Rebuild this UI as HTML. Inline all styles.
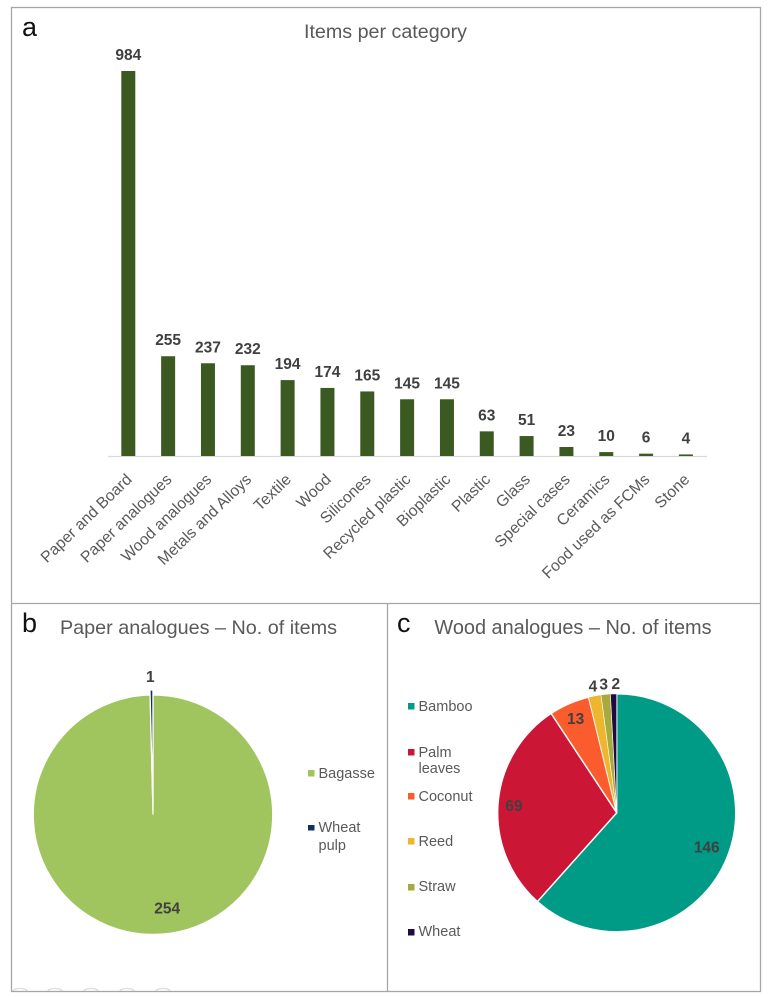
<!DOCTYPE html>
<html lang="en">
<head>
<meta charset="utf-8">
<title>Items per category</title>
<style>
html,body{margin:0;padding:0;background:#fff;}
svg{display:block;font-family:"Liberation Sans",sans-serif;}
</style>
</head>
<body>
<svg id="figure" xmlns="http://www.w3.org/2000/svg" width="769" height="998" viewBox="0 0 769 998">
  <rect x="0" y="0" width="769" height="998" fill="#fff"/>
  <g fill="none" stroke="#dddddd" stroke-width="1.3">
    <path d="M13 991A7 2.5 0 0 1 27 991"/>
    <path d="M48 991A7 2.5 0 0 1 62 991"/>
    <path d="M84 991A7 2.5 0 0 1 98 991"/>
    <path d="M120 991A7 2.5 0 0 1 134 991"/>
    <path d="M156 991A7 2.5 0 0 1 170 991"/>
  </g>
  <g fill="none" stroke="#a6a6a6" stroke-width="1.3">
    <rect x="11.5" y="7.5" width="749" height="984"/>
    <line x1="11.5" y1="603.5" x2="760.5" y2="603.5"/>
    <line x1="387.5" y1="603.5" x2="387.5" y2="991.5"/>
  </g>
  <text x="22" y="36" font-size="27" fill="#111">a</text>
  <text x="22" y="632" font-size="27" fill="#111">b</text>
  <text x="397" y="632" font-size="27" fill="#111">c</text>
  <text x="385.5" y="38" font-size="19.7" fill="#595959" text-anchor="middle">Items per category</text>
  <text x="198.5" y="634" font-size="19.8" fill="#595959" text-anchor="middle">Paper analogues – No. of items</text>
  <text x="573" y="634" font-size="19.9" fill="#595959" text-anchor="middle">Wood analogues – No. of items</text>
  <g id="bar-chart"></g>
  <g id="paper-pie"></g>
  <g id="wood-pie"></g>
  <g id="paper-legend">
    <rect x="308" y="770" width="6.5" height="6.5" fill="#a0c55e"/>
    <text x="318.5" y="778" font-size="14.5" fill="#595959">Bagasse</text>
    <rect x="308" y="825" width="6.5" height="5.5" fill="#12305e"/>
    <text x="318.5" y="832" font-size="14.5" fill="#595959">Wheat</text>
    <text x="318.5" y="850" font-size="14.5" fill="#595959">pulp</text>
  </g>
  <g id="wood-legend">
    <rect x="408" y="703" width="6.5" height="6.5" fill="#009b86"/>
    <text x="418.5" y="711" font-size="14.5" fill="#595959">Bamboo</text>
    <rect x="408" y="749" width="6.5" height="6.5" fill="#cc1636"/>
    <text x="418.5" y="757" font-size="14.5" fill="#595959">Palm</text>
    <text x="418.5" y="773" font-size="14.5" fill="#595959">leaves</text>
    <rect x="408" y="793" width="6.5" height="6.5" fill="#fa5c2e"/>
    <text x="418.5" y="801" font-size="14.5" fill="#595959">Coconut</text>
    <rect x="408" y="838" width="6.5" height="6.5" fill="#eeb52e"/>
    <text x="418.5" y="846" font-size="14.5" fill="#595959">Reed</text>
    <rect x="408" y="884" width="6.5" height="6.5" fill="#a5ab3c"/>
    <text x="418.5" y="891" font-size="14.5" fill="#595959">Straw</text>
    <rect x="408" y="929" width="6.5" height="6.5" fill="#22093f"/>
    <text x="418.5" y="936" font-size="14.5" fill="#595959">Wheat</text>
  </g>
</svg>
<script>
var barCategories = ["Paper and Board","Paper analogues","Wood analogues","Metals and Alloys","Textile","Wood","Silicones","Recycled plastic","Bioplastic","Plastic","Glass","Special cases","Ceramics","Food used as FCMs","Stone"];
var barValues = [984,255,237,232,194,174,165,145,145,63,51,23,10,6,4];
var paperCategories = ["Bagasse","Wheat pulp"];
var paperValues = [254,1];
var woodCategories = ["Bamboo","Palm leaves","Coconut","Reed","Straw","Wheat"];
var woodValues = [146,69,13,4,3,2];

var NS = "http://www.w3.org/2000/svg";
function svgEl(tag, attrs, parent) {
  var el = document.createElementNS(NS, tag);
  for (var k in attrs) { el.setAttribute(k, attrs[k]); }
  parent.appendChild(el);
  return el;
}
function slug(s) { return s.toLowerCase().replace(/[^a-z0-9]+/g, "-"); }

/* ---------- bar chart ---------- */
var barBox = {firstX: 128.3, step: 39.83, baseY: 456, width: 14, pxPerUnit: 385 / 984};
function xScale(i) { return barBox.firstX + i * barBox.step; }
function yScale(v) { return barBox.baseY - v * barBox.pxPerUnit; }

var barRoot = document.getElementById("bar-chart");
var axisLine = svgEl("line", {x1: 108, x2: 707, y1: barBox.baseY + 0.5, y2: barBox.baseY + 0.5, stroke: "#d9d9d9", "stroke-width": 1.2}, barRoot);



barValues.forEach(function (v, i) {
  var cx = xScale(i), top = yScale(v);
  var bar = svgEl("rect", {x: cx - barBox.width / 2, y: top, width: barBox.width, height: barBox.baseY - top, fill: "#3b5a22"}, barRoot);
  
  

  var val = svgEl("text", {x: cx, y: top - 11, "text-anchor": "middle", "font-size": 15.5, "font-weight": "bold", fill: "#404040"}, barRoot);
  val.textContent = v;
  
  

  var lx = cx + 4.5, ly = barBox.baseY + 24.5;
  var tick = svgEl("text", {x: lx, y: ly, "text-anchor": "end", "font-size": 15.8, fill: "#595959", transform: "rotate(-44 " + lx + " " + ly + ")"}, barRoot);
  tick.textContent = barCategories[i];
  
  
});

/* ---------- pies ---------- */
function polar(cx, cy, r, deg) {
  var a = deg * Math.PI / 180;
  return [cx + r * Math.sin(a), cy - r * Math.cos(a)];
}
function sectorPath(cx, cy, r, a0, a1) {
  var p0 = polar(cx, cy, r, a0), p1 = polar(cx, cy, r, a1);
  return "M" + cx + " " + cy + "L" + p0[0] + " " + p0[1] + "A" + r + " " + r + " 0 " + (a1 - a0 > 180 ? 1 : 0) + " 1 " + p1[0] + " " + p1[1] + "Z";
}
function drawPie(root, opts) {
  var total = opts.values.reduce(function (a, b) { return a + b; }, 0);
  var angle = 0;
  opts.values.forEach(function (v, i) {
    var sweep = v / total * 360, mid = angle + sweep / 2;
    var off = polar(0, 0, opts.explode[i], mid);
    var cx = opts.cx + off[0], cy = opts.cy + off[1];
    var slice = svgEl("path", {d: sectorPath(cx, cy, opts.r, angle, angle + sweep), fill: opts.colors[i], stroke: "#fff", "stroke-width": opts.strokes[i]}, root);
    
    

    var lp = polar(opts.cx, opts.cy, opts.r * opts.labelRadius[i], mid);
    var label = svgEl("text", {x: lp[0] + opts.labelShift[i], y: lp[1] + 5.5, "text-anchor": "middle", "font-size": 15.5, "font-weight": "bold", fill: "#404040"}, root);
    label.textContent = v;
    
    
    angle += sweep;
  });
}
drawPie(document.getElementById("paper-pie"), {
  cx: 153, cy: 814.7, r: 119.7,
  values: paperValues, names: paperCategories,
  colors: ["#a0c55e", "#12305e"],
  strokes: [1.2, 1.3],
  explode: [0, 5],
  labelRadius: [0.78, 1.155],
  labelShift: [13, -1]
});
drawPie(document.getElementById("wood-pie"), {
  cx: 616.7, cy: 812.8, r: 119,
  values: woodValues, names: woodCategories,
  colors: ["#009b86", "#cc1636", "#fa5c2e", "#eeb52e", "#a5ab3c", "#22093f"],
  strokes: [1.4, 1.4, 1.4, 0.6, 0.6, 0.6],
  explode: [0, 0, 0, 0, 0, 0],
  labelRadius: [0.81, 0.865, 0.865, 1.085, 1.085, 1.085],
  labelShift: [0, 0, 0, 0, -1, 2.5]
});
</script>
</body>
</html>
